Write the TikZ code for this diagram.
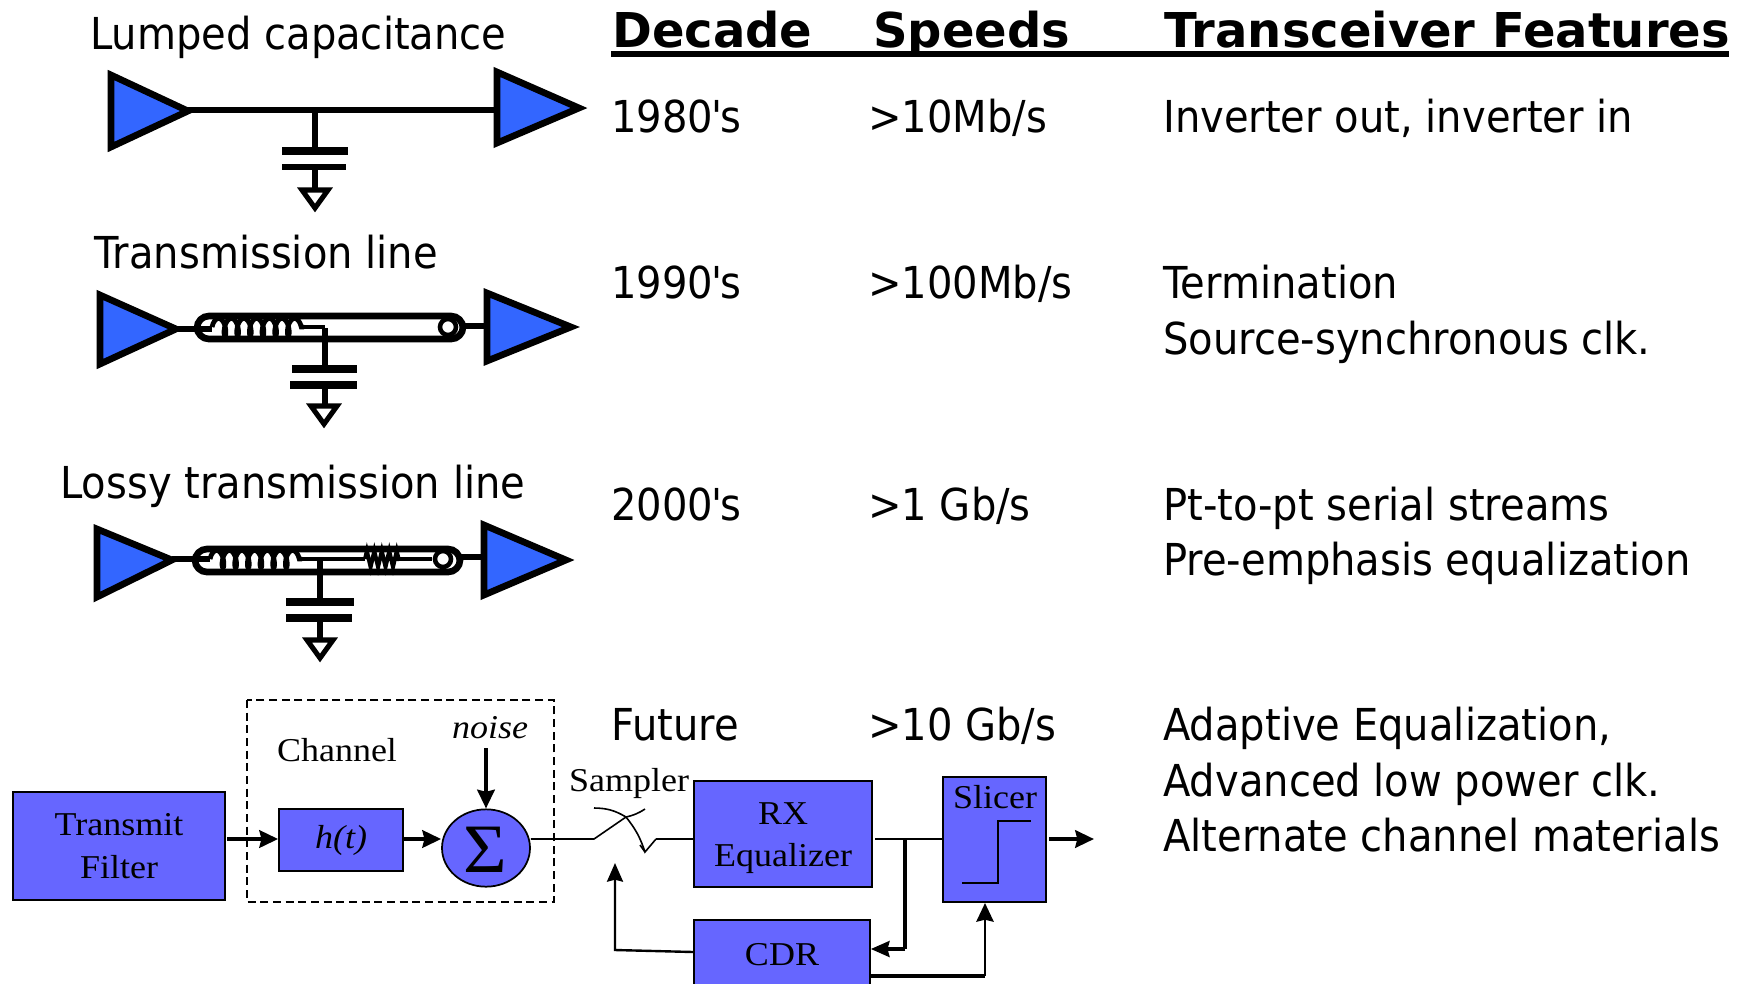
\documentclass[tikz,border=0pt]{standalone}
\usepackage{fontspec}
\setmainfont{DejaVu Sans}[FakeStretch=0.91,Ligatures=TeXOff]
\newfontfamily\hdfont{DejaVu Sans}[FakeStretch=1.0]
\newfontfamily\sfont{Liberation Serif}[FakeStretch=1.08]
\usetikzlibrary{arrows.meta,decorations.pathmorphing,calc,shapes.geometric}
\definecolor{ampblue}{RGB}{51,102,255}
\definecolor{boxblue}{RGB}{102,102,255}
\tikzset{
  amp/.style={draw=black,fill=ampblue,line width=5pt,line join=miter},
  wire/.style={line width=4.5pt},
  plate/.style={line width=6pt},
  gnd/.style={draw=black,fill=white,line width=3.8pt},
  capsule/.style={draw=black,line width=5pt,rounded corners=9pt},
  coilw/.style={line width=3.6pt,decorate,decoration={coil,amplitude=6.5pt,segment length=9.5pt,aspect=0.4}},
  zigw/.style={line width=3pt,decorate,decoration={zigzag,amplitude=6pt,segment length=5.6pt}},
  serif/.style={inner sep=0pt,font=\sfont\fontsize{25}{29}\selectfont,align=center},
  blk/.style={draw=black,fill=boxblue,line width=1.3pt,inner sep=0pt,font=\sfont\fontsize{25}{29}\selectfont,align=center},
  lab/.style={anchor=base west,inner sep=0pt,font=\fontsize{33}{38}\selectfont},
  cell/.style={anchor=base west,inner sep=0pt,font=\fontsize{33}{38}\selectfont},
  hd/.style={anchor=base west,inner sep=0pt,font=\hdfont\bfseries\fontsize{36}{40}\selectfont},
  sig/.style={line width=1.2pt},
  bus/.style={line width=3pt,-{Stealth[length=14pt,width=13pt,inset=1.5pt]}},
  ring/.style={line width=3.4pt,fill=white},
}
\newcommand{\decade}[1]{#1\kern-1.5pt'\kern-1.5pt s}
\begin{document}
\begin{tikzpicture}[x=0.75pt,y=-0.75pt]
\useasboundingbox (0,0) rectangle (1738,983);
% titles
\node[lab] (t1) at (90,49) {Lumped capacitance};
\node[lab] (t2) at (94,268) {Transmission line};
\node[lab] (t3) at (60,498) {Lossy transmission line};
% header
\node[hd] (h1) at (612,47) {Decade};
\node[hd] (h2) at (873,47) {Speeds};
\node[hd] (h3) at (1164,47) {Transceiver Features};
\coordinate (ul) at (611,54); \coordinate (ur) at (1729,54);
\draw[line width=4pt] (ul) -- (ur);
% rows
\node[cell] (a1) at (611,132) {\decade{1980}};
\node[cell] (b1) at (868,132) {>10Mb/s};
\node[cell] (c1) at (1163,132) {Inverter out, inverter in};
\node[cell] (a2) at (611,298) {\decade{1990}};
\node[cell] (b2) at (868,298) {>100Mb/s};
\node[cell] (c2) at (1163,298) {Termination};
\node[cell] (c2b) at (1163,354) {Source-synchronous clk.};
\node[cell] (a3) at (611,520) {\decade{2000}};
\node[cell] (b3) at (868,520) {>1 Gb/s};
\node[cell] (c3) at (1163,520) {Pt-to-pt serial streams};
\node[cell] (c3b) at (1163,575) {Pre-emphasis equalization};
\node[cell] (a4) at (611,740) {Future};
\node[cell] (b4) at (868,740) {>10 Gb/s};
\node[cell] (c4) at (1163,740) {Adaptive Equalization,};
\node[cell] (c4b) at (1163,796) {Advanced low power clk.};
\node[cell] (c4c) at (1163,851) {Alternate channel materials};
% lumped
\coordinate (p1) at (188,110); \coordinate (p2) at (497,110);
\coordinate (p3) at (315,110); \coordinate (p4) at (315,151);
\coordinate (p5) at (315,167); \coordinate (p6) at (315,190);
\draw[wire] (p1) -- (p2);
\draw[wire] (p3) -- (p4);
\draw[wire] (p5) -- (p6);
\draw[amp] (111,75) -- (188,111) -- (111,147) -- cycle;
\draw[amp] (497,72) -- (579,108) -- (497,143) -- cycle;
\draw[plate] (282,151) -- (348,151);
\draw[plate,line width=5pt] (282,167) -- (346,167);
\draw[gnd] (302,190) -- (328,190) -- (315,208) -- cycle;
% transmission line
\coordinate (q1) at (174,329); \coordinate (q2) at (212,329);
\coordinate (q3) at (460,326); \coordinate (q4) at (487,326);
\coordinate (q5) at (325,328); \coordinate (q6) at (325,369);
\coordinate (q7) at (325,385); \coordinate (q8) at (325,406);
\draw[capsule] (197,316) rectangle (463,339);
\draw[wire] (q1) -- (q2);
\draw[wire] (q3) -- (q4);
\draw[coilw] (212,327) -- (304,327);
\draw[line width=3.4pt] (304,327) -- (325,327);
\draw[wire] (q5) -- (q6);
\draw[wire] (q7) -- (q8);
\draw[ring] (448,327) circle[radius=8];
\draw[amp] (100,295) -- (176,329) -- (100,364) -- cycle;
\draw[amp] (487,293) -- (571,327) -- (487,361) -- cycle;
\draw[plate] (292,369) -- (357,369);
\draw[plate] (290,385) -- (357,385);
\draw[gnd] (311,406) -- (337,406) -- (324,424) -- cycle;
% lossy line
\coordinate (r1) at (172,559); \coordinate (r2) at (210,559);
\coordinate (r3) at (458,557); \coordinate (r4) at (484,557);
\coordinate (r5) at (320,559); \coordinate (r6) at (320,602);
\coordinate (r7) at (320,618); \coordinate (r8) at (320,639);
\draw[capsule] (195,549) rectangle (460,572);
\draw[wire] (r1) -- (r2);
\draw[wire] (r3) -- (r4);
\draw[coilw] (210,559) -- (302,559);
\draw[line width=3.4pt] (302,559) -- (365,559);
\draw[zigw] (365,559) -- (399,559);
\draw[line width=3.4pt] (399,559) -- (432,559);
\draw[wire] (r5) -- (r6);
\draw[wire] (r7) -- (r8);
\draw[ring] (443,559) circle[radius=8];
\draw[amp] (97,529) -- (172,560) -- (97,597) -- cycle;
\draw[amp] (484,525) -- (566,560) -- (484,595) -- cycle;
\draw[plate] (286,602) -- (354,602);
\draw[plate] (286,618) -- (352,618);
\draw[gnd] (307,640) -- (333,640) -- (320,658) -- cycle;
% system block diagram
\draw[line width=1.2pt,dash pattern=on 6pt off 3.5pt] (247,700) rectangle (554,902);
\node[blk,minimum width=159pt,minimum height=81pt] (tx) at (119,846) {Transmit\\[3pt]Filter};
\node[blk,minimum width=93pt,minimum height=46.5pt] (ht) at (341,840) {\itshape h(t)};
\node[blk,ellipse,minimum width=66pt,minimum height=58pt] (sum) at (486,848) {};
\node[inner sep=0pt,font=\sfont\fontsize{52}{56}\selectfont] (sg) at (485,850) {Σ};
\node[serif] (ch) at (337,750) {Channel};
\node[inner sep=0pt,font=\sfont\itshape\fontsize{25}{29}\selectfont] (no) at (490,728) {noise};
\node[serif] (sa) at (629,783) {Sampler};
\node[blk,minimum width=133.5pt,minimum height=79.5pt] (rx) at (783,834) {};
\node[serif] (rxt) at (783,838) {RX\\[3pt]Equalizer};
\node[blk,minimum width=77pt,minimum height=94pt] (sl) at (994.5,839.5) {};
\node[serif] (slt) at (995,797) {Slicer};
\node[blk,minimum width=132pt,minimum height=52.5pt] (cdr) at (782,955) {CDR};
\coordinate (e0) at (227,839);
\draw[bus] (e0) -- (ht.west |- e0);
\coordinate (e2) at (ht.east |- e0);
\draw[bus] (e2) -- (sum.west |- e2);
\coordinate (e3) at (486,748);
\draw[bus] (e3) -- (sum.north);
\coordinate (s0) at (sum.east |- e0);
\coordinate (s1) at (594,839); \coordinate (s2) at (645,809);
\coordinate (s3) at (594,808); \coordinate (s4) at (645,852);
\coordinate (s5) at (656,839);
\draw[sig] (s0) -- (s1) -- (626,817) to[bend right=10] (s2);
\draw[sig] (s3) to[bend left=15] (626,817) to[bend left=10] (s4) -- (s5);
\draw[sig] (640,845) -- (s4);
\draw[sig] (s5) -- (rx.west |- s5);
\coordinate (j0) at (875,839); \coordinate (j1) at (905,839); \coordinate (j2) at (905,949);
\draw[sig] (j0) -- (sl.west |- j0);
\draw[line width=2.4pt] (j1) -- (j2);
\draw[line width=2.4pt,-{Stealth[length=14pt,width=12pt,inset=1.5pt]}] (j2) -- (cdr.east |- j2);
\coordinate (k0) at (985,976);
\draw[line width=2.6pt] (cdr.east |- k0) -- (k0);
\draw[line width=1.8pt,-{Stealth[length=14pt,width=13pt,inset=1.5pt]}] (k0) -- (k0 |- sl.south);
\coordinate (m0) at (615,950); \coordinate (m1) at (615,863); \coordinate (m2) at (694,952);
\draw[line width=1.8pt,-{Stealth[length=14pt,width=12pt,inset=1.5pt]}] (cdr.west |- m2) -- (m0) -- (m1);
\coordinate (o1) at (1049,839); \coordinate (o2) at (1094,839);
\draw[bus] (o1) -- (o2);
\coordinate (st1) at (962,883); \coordinate (st2) at (998,883); \coordinate (st3) at (998,821); \coordinate (st4) at (1031,821);
\draw[line width=1.3pt] (st1) -- (st2) -- (st3) -- (st4);
\end{tikzpicture}
\end{document}
